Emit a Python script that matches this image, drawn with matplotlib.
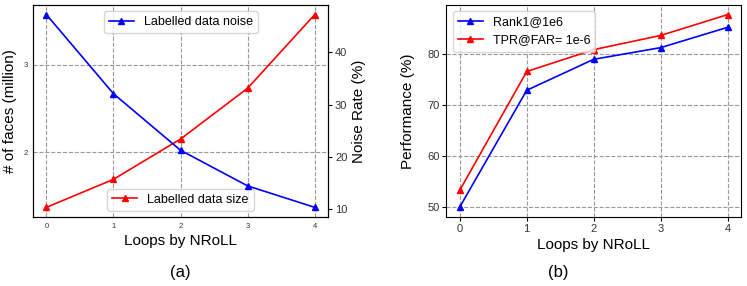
import numpy as np
import matplotlib.pyplot as plt

plt.rcParams['font.family'] = ['Liberation Sans', 'DejaVu Sans']

loops = [0, 1, 2, 3, 4]
# panel (a)
data_size = [1.37, 1.69, 2.15, 2.73, 3.57]      # million faces
data_noise = [47.2, 32.1, 21.3, 14.5, 10.4]     # noise rate (%)
# panel (b)
rank1 = [49.9, 72.9, 79.0, 81.3, 85.3]
tpr = [53.2, 76.6, 80.9, 83.7, 87.8]

fig = plt.figure(figsize=(7.47, 2.86), dpi=100)
grid_kw = dict(color='#999999', linestyle='--', linewidth=0.8)
tick_col = '#333333'

# ---- (a) ----
ax1 = fig.add_axes([0.0442, 0.2413, 0.395, 0.7412])
ax1.plot(loops, data_size, color='red', marker='^', markersize=5, linewidth=1.2, label='Labelled data size')
ax1.set_xticks(loops)
ax1.set_yticks([2, 3])
ax1.tick_params(axis='both', labelsize=5.5, length=0, pad=4, labelcolor=tick_col)
ax1.set_ylabel('# of faces (million)', fontsize=11)
ax1.yaxis.set_label_coords(-0.055, 0.5)
ax1.set_xlabel('Loops by NRoLL', fontsize=11, labelpad=3)
ax1.grid(True, **grid_kw)
ax1.legend(loc='lower center', fontsize=9)

ax2 = ax1.twinx()
ax2.plot(loops, data_noise, color='blue', marker='^', markersize=5, linewidth=1.2, label='Labelled data noise')
ax2.set_yticks([10, 20, 30, 40])
ax2.tick_params(axis='y', labelsize=8, length=3, pad=2, labelcolor=tick_col)
ax2.set_ylabel('Noise Rate (%)', fontsize=11, labelpad=3)
ax2.legend(loc='upper center', fontsize=9)

fig.text(0.242, 0.048, '(a)', ha='center', va='center', fontsize=12)

# ---- (b) ----
ax3 = fig.add_axes([0.5975, 0.2423, 0.3945, 0.7402])
ax3.plot(loops, rank1, color='blue', marker='^', markersize=5, linewidth=1.2, label='Rank1@1e6')
ax3.plot(loops, tpr, color='red', marker='^', markersize=5, linewidth=1.2, label='TPR@FAR= 1e-6')
ax3.set_xticks(loops)
ax3.set_yticks([50, 60, 70, 80])
ax3.tick_params(axis='both', labelsize=8, length=3, pad=2, labelcolor=tick_col)
ax3.set_ylabel('Performance (%)', fontsize=11, labelpad=9)
ax3.set_xlabel('Loops by NRoLL', fontsize=11, labelpad=3)
ax3.grid(True, **grid_kw)
ax3.legend(loc='upper left', fontsize=9)

fig.text(0.747, 0.048, '(b)', ha='center', va='center', fontsize=12)

fig.savefig('out.png', dpi=100)
